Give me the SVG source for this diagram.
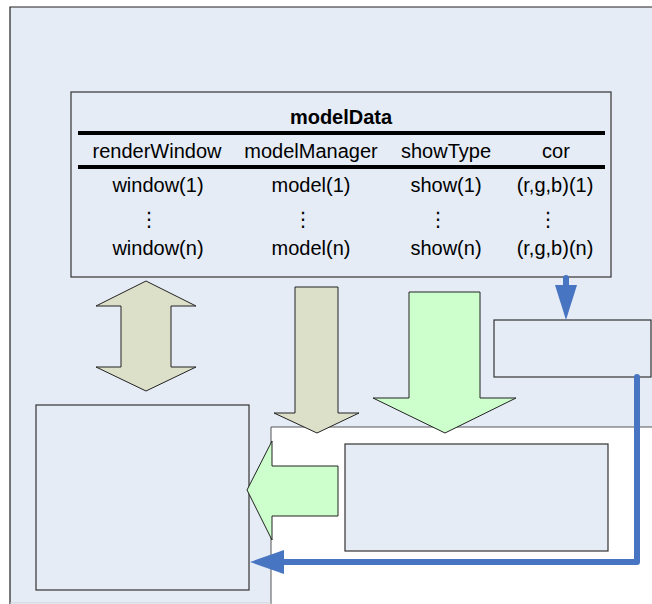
<svg xmlns="http://www.w3.org/2000/svg" width="652" height="604" viewBox="0 0 652 604">
<style>
.t{font-family:"Liberation Sans",Arial,"DejaVu Sans",sans-serif;font-size:20px;fill:#000;text-anchor:middle}
.b{font-weight:bold}
.box{fill:#E5ECF6;stroke:#333;stroke-width:1.2}
.beige{fill:#DCE0C9;stroke:#222;stroke-width:1}
.green{fill:#CCFFCC;stroke:#222;stroke-width:1}
.blue{fill:none;stroke:#4775C2;stroke-width:6;stroke-linecap:round;stroke-linejoin:round}
.bh{fill:#4775C2}
</style>
<g id="background">
<path d="M10,7 H652 V427 H271 V603 H10 Z" fill="#E5ECF6"/>
<path d="M652,427 H271 V604" fill="none" stroke="#555" stroke-width="1"/>
<path d="M10,604 V7 H652" fill="none" stroke="#222" stroke-width="1.2"/>
<line x1="10" y1="603" x2="271" y2="603" stroke="#c8ccd4" stroke-width="1"/>
</g>
<g id="modelData">
<rect class="box" x="71" y="92" width="540" height="185"/>
<text class="t b" x="341" y="124">modelData</text>
<rect x="78" y="131" width="527" height="4" fill="#000"/>
<text class="t" x="157" y="158">renderWindow</text>
<text class="t" x="311" y="158">modelManager</text>
<text class="t" x="446" y="158">showType</text>
<text class="t" x="556" y="158">cor</text>
<rect x="78" y="165" width="527" height="4" fill="#000"/>
<text class="t" x="158" y="192">window(1)</text>
<text class="t" x="311" y="192">model(1)</text>
<text class="t" x="446" y="192">show(1)</text>
<text class="t" x="555" y="192">(r,g,b)(1)</text>
<text class="t" x="149" y="226">⋮</text>
<text class="t" x="303" y="226">⋮</text>
<text class="t" x="438" y="226">⋮</text>
<text class="t" x="548" y="226">⋮</text>
<text class="t" x="158" y="255">window(n)</text>
<text class="t" x="311" y="255">model(n)</text>
<text class="t" x="446" y="255">show(n)</text>
<text class="t" x="555" y="255">(r,g,b)(n)</text>
</g>
<g id="leftBox"><rect class="box" x="36" y="405" width="213" height="185"/></g>
<g id="corBox"><rect class="box" x="494" y="320" width="157" height="57"/></g>
<g id="innerBox"><rect class="box" x="345" y="444" width="263" height="107"/></g>
<g id="connectors">
<polygon class="beige" points="146,281 196,306 171,306 171,367 196,367 146,391 96,367 121,367 121,306 96,306"/>
<polygon class="beige" points="295,287 338,287 338,413 359,413 317,433 274,413 295,413"/>
<polygon class="green" points="409,292 480,292 480,398 516,398 445,433 373,398 409,398"/>
<polygon class="green" points="338,466 338,516 272,516 272,540 247,490 272,441 272,466"/>
<line class="blue" x1="566" y1="278" x2="566" y2="290"/>
<polygon class="bh" points="555,285 577,285 566,320"/>
<polyline class="blue" points="637,377 637,562 282,562"/>
<polygon class="bh" points="284,550 284,574 250,562"/>
</g>
</svg>
